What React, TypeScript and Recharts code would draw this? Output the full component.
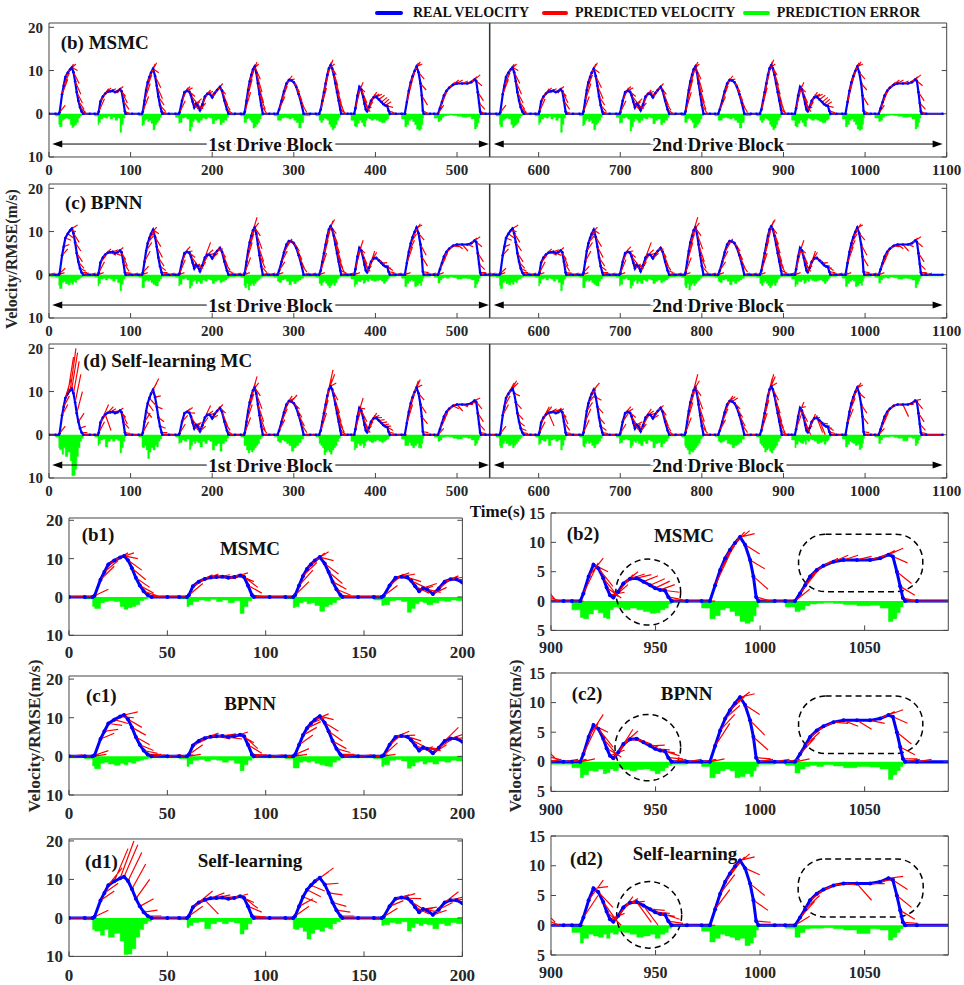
import React from "react";
import {
  Area,
  ComposedChart,
  Line,
  ReferenceArea,
  ReferenceLine,
  XAxis,
  YAxis,
} from "recharts";

// drive cycle breakpoints (s) and real velocity (m/s), one line per trip
const cycleTime = [
  0, 8, 12, 13, 16, 18, 20, 23, 26, 28, 30, 32, 34, 36, 38, 40, 42, 50,
  56, 60, 61, 63, 66, 69, 72, 75, 78, 81, 84, 87, 89, 91, 93, 94, 102,
  110, 114, 115, 117, 119, 121, 123, 125, 127.5, 130, 132, 134, 136, 138, 139, 147,
  155, 159, 160, 163, 166, 169, 172, 174, 176, 178, 180, 182, 185, 188, 191, 194, 197, 200, 203, 206, 209.5, 212, 215, 218, 220, 228,
  235, 239, 240, 242, 244, 246, 248, 250, 252, 254, 256, 258, 260, 262, 270,
  276, 280, 282, 285, 288, 291, 294, 297, 300, 303, 306, 309, 312, 320,
  327, 331, 333, 335, 337, 339, 341, 343, 345, 347, 349, 351, 353, 355, 357, 358, 366,
  370, 374, 375.5, 378, 380.3, 382.6, 385, 386.6, 388.2, 389.8, 392.2, 394.6, 397.8, 401, 404.2, 407.4, 409.8, 412.2, 414.5, 416.1, 417.7, 425,
  432, 436, 438.5, 440.9, 443.3, 445.6, 448, 450.4, 452.8, 455.2, 456.8, 458.1, 459.2, 467,
  472, 476.7, 479.1, 481.5, 483.9, 487.1, 490.3, 495.1, 499.9, 506.3, 512.6, 517.4, 521.4, 523.5, 525.4, 527, 528.3, 529.4, 535,
];
const cycleSpeed = [
  0, 0, 0, 0.3, 4.5, 6.5, 8.5, 9.5, 10.3, 10.7, 9.6, 7.5, 5, 3, 1.5, 0.5, 0, 0,
  0, 0, 0.5, 2.8, 4, 4.7, 5.1, 5.2, 5.3, 5.0, 5.2, 5.6, 5.2, 3, 0.5, 0, 0,
  0, 0, 0.5, 3, 5.5, 7.3, 8.5, 9.5, 10.4, 8.7, 6.5, 4, 2, 0.5, 0, 0,
  0, 0, 0.3, 3, 5, 5.3, 5.1, 4.2, 2.8, 1.5, 2.3, 2, 0.8, 2.2, 4, 4.6, 4.6, 3.8, 4.8, 5.5, 6.2, 5.3, 3, 1, 0, 0,
  0, 0, 0.5, 3, 5.5, 7.5, 9, 10.3, 10.9, 9.5, 7, 4.5, 2, 0, 0,
  0, 0, 1, 3, 5.2, 7, 7.8, 7.7, 7.3, 6.2, 4.5, 2.5, 0, 0,
  0, 0, 1, 3, 5, 7, 9, 10.5, 11.2, 10.5, 9, 7, 5, 3, 1, 0, 0,
  0, 0, 1.3, 4.2, 6.2, 5.6, 3.9, 2.3, 1, 0.6, 1.6, 3, 3.8, 3.9, 3.3, 2.7, 2.2, 1.9, 1.8, 0.7, 0, 0,
  0, 0, 2.7, 5.3, 7.3, 8.7, 9.9, 10.9, 9.6, 7, 4.2, 0.7, 0, 0,
  0, 0, 1.3, 2.7, 4.2, 5.3, 6, 6.7, 7, 7, 7, 7.3, 7.9, 7.6, 5, 2.5, 0.5, 0, 0,
];
const blockStarts = [0, 540];
const tailTime = 1095;
const horizon = 7; // prediction horizon (s)

// predicted velocity at t + horizon, per breakpoint
const predMSMC = [
  0, 0, 0, 2, 8, 9.5, 10.5, 11.5, 11.5, 10, 7, 4.5, 2.5, 1, 0.3, 0, 0, 0,
  0, 0, 3.5, 5, 5.8, 6, 5.6, 5.8, 4.8, 6, 6.3, 4, 2.5, 1, 0, 0, 0,
  0, 0, 4, 7, 9, 10.5, 11.5, 11.8, 9.5, 6, 3.5, 2, 0.5, 0, 0, 0,
  0, 0, 3, 6, 6.3, 6, 4, 2.5, 1, 2.8, 3.5, 1.2, 2.5, 5, 5.5, 5.2, 4.5, 5.5, 6.5, 7, 4.5, 2, 0.8, 0, 0, 0,
  0, 0, 5, 8, 10, 11.5, 12, 11.5, 8, 5, 2.5, 1, 0, 0, 0,
  0, 0, 4, 6.5, 8.2, 8.8, 8, 6.5, 5, 3, 1.2, 0.3, 0, 0,
  0, 0, 6, 9, 11, 12, 12.5, 11.5, 9, 6.5, 4.5, 2.5, 1.2, 0.3, 0, 0, 0,
  0, 0, 6.5, 7.3, 5, 2.5, 0.8, 0.5, 1.5, 2.8, 4.5, 5, 4.6, 4.5, 4.3, 3.8, 3.4, 2.8, 1.5, 0.2, 0, 0,
  0, 0, 8, 9.5, 11, 11.8, 12, 11.5, 8, 5.5, 2, 0, 0, 0,
  0, 2, 4.5, 5.5, 6.2, 6.8, 7.3, 7.8, 7.8, 7.6, 7.8, 8.6, 9, 6.5, 3, 1, 0, 0, 0,
];
const errMSMC = [
  0.1, 0.5, 2.5, 3, 1.5, 1.2, 1, 1.2, 2.5, 3.2, 2.8, 2.5, 2, 1, 0.5, 0.3, 0.1, 0.1,
  0.5, 2.5, 2, 1.2, 0.8, 1, 0.6, 1.2, 0.8, 1.5, 1, 4.3, 2.5, 1, 0.3, 0.15, 0.15,
  0.5, 2.8, 2.5, 1.5, 1.2, 1.8, 1.5, 2.2, 3.7, 2.5, 2, 1.5, 0.8, 0.3, 0.15, 0.15,
  0.8, 2.2, 2, 1, 0.8, 1.2, 4, 3, 1.8, 1.2, 1.5, 2, 1.5, 1, 1.2, 0.8, 1, 2.3, 1.5, 1.2, 2.5, 2, 1.5, 0.8, 0.3, 0.15,
  0.5, 2, 2, 1.2, 1, 1.5, 2, 3.3, 3, 2.5, 2, 1.2, 0.5, 0.2, 0.15,
  0.5, 1.5, 1.5, 1, 0.8, 1, 1.2, 1, 1.5, 2, 3.3, 2, 0.5, 0.15,
  0.5, 1.5, 2, 1.5, 1, 1.2, 1.5, 2.5, 3, 3.7, 3.3, 2.5, 1.5, 0.8, 0.3, 0.15, 0.15,
  1.5, 2.8, 3, 2.2, 1.5, 2, 2.8, 3, 1.5, 1, 1.2, 1.5, 1.2, 1.5, 1.8, 2.1, 2, 1.5, 1.2, 0.5, 0.2, 0.15,
  1.2, 3, 2.5, 1.5, 1.2, 1.8, 2.5, 3.5, 3.8, 3.5, 2.5, 1, 0.3, 0.15,
  1, 1.8, 1.5, 0.8, 0.5, 0.4, 0.3, 0.4, 0.6, 0.8, 0.7, 1.2, 3.5, 3, 2, 1, 0.3, 0.15, 0.15,
];
const predBPNN = [
  0.4, 0.4, 0.5, 1.5, 6, 7, 8, 8.5, 10, 11.5, 7.5, 5.5, 3, 1.5, 0.8, 0.5, 0.4, 0.4,
  0.4, 0.5, 3, 4.5, 5.5, 6, 5.5, 4.5, 5.8, 4.5, 6.3, 3.5, 2, 0.8, 0.4, 0.4, 0.4,
  0.4, 0.5, 2, 5.5, 7.5, 9, 10, 11, 9.5, 6.5, 4, 2, 1, 0.5, 0.4, 0.4,
  0.4, 0.5, 3.5, 6, 6.5, 5.5, 4, 2.5, 1.5, 2.5, 2, 1.5, 3, 4.5, 7.5, 5.8, 5, 5, 6.5, 6, 4, 2, 1, 0.5, 0.4, 0.4,
  0.4, 0.5, 4, 7.5, 9.5, 11, 13.3, 12, 9, 6, 3, 1.5, 0.5, 0.4, 0.4,
  0.4, 0.5, 3, 5.5, 7.5, 8.3, 7.5, 6.5, 5.5, 3.5, 1.5, 0.6, 0.4, 0.4,
  0.4, 0.5, 5, 8, 10, 11.5, 12.5, 12.8, 9.5, 7, 5, 3, 1.5, 0.6, 0.4, 0.4, 0.4,
  0.4, 0.5, 6.5, 8, 5, 2.5, 1, 0.8, 2, 3.5, 5.5, 5.2, 3.5, 3, 2.5, 2.8, 2, 1.5, 1, 0.5, 0.4, 0.4,
  0.4, 0.5, 6.5, 8, 9.5, 11, 11.8, 11.5, 8, 4.5, 2, 0.5, 0.4, 0.4,
  0.4, 0.5, 4, 5, 6, 6.5, 6.8, 6.5, 6, 5.5, 6.5, 8.5, 8.8, 6.5, 3, 1.2, 0.5, 0.4, 0.4,
];
const errBPNN = [
  0.4, 0.6, 2.5, 3.2, 1.8, 1.5, 2, 2.3, 1.8, 2.2, 1.5, 1.8, 1.2, 1, 0.7, 0.5, 0.4, 0.4,
  0.6, 2.6, 2, 1, 0.8, 1.2, 0.8, 1, 1.5, 1, 1.8, 3.7, 2.2, 1, 0.5, 0.4, 0.4,
  0.6, 3, 3, 1.5, 1.2, 1.5, 1.2, 1.8, 2.2, 2.5, 2.6, 1.5, 1, 0.5, 0.4, 0.4,
  0.6, 2.6, 2.2, 1, 0.8, 1.2, 3.1, 2.5, 1.5, 1.2, 2, 1.5, 2, 1.2, 1.5, 1, 1.2, 2, 1.5, 1.2, 1.8, 1.5, 1.2, 0.8, 0.5, 0.4,
  0.6, 2.5, 3, 2, 3.5, 2.5, 2, 2.5, 2, 1.5, 1.2, 0.8, 0.5, 0.4, 0.4,
  0.6, 1.5, 1.8, 1.2, 1, 1.5, 2.3, 1.5, 2, 1.5, 1.2, 0.8, 0.4, 0.4,
  0.6, 2, 2.5, 1.8, 1.5, 2, 2.5, 3, 2.5, 2, 2.5, 1.8, 1, 0.6, 0.4, 0.4, 0.4,
  1, 2.7, 2.2, 1.5, 1.6, 1.2, 2, 1.8, 1.2, 1.5, 1, 1.3, 1.5, 1.3, 1.2, 1.5, 2, 1.5, 1, 0.6, 0.4, 0.3,
  0.8, 2.7, 2, 1.5, 1.2, 1.5, 2.7, 2.5, 2, 2.5, 1.5, 0.8, 0.4, 0.3,
  0.6, 1.9, 1.2, 0.8, 0.6, 0.8, 0.5, 0.7, 1, 0.8, 0.9, 1.2, 3, 2.2, 1.5, 0.8, 0.4, 0.3, 0.3,
];
// self-learning MC, 1st and 2nd drive block
const predSL1 = [
  0, 0, 0, 2, 7, 9, 13, 18, 20, 19, 17, 14, 10, 5, 2, 0.5, 0, 0,
  0, 0, 3, 5, 7, 1, 6.5, 6, 5.5, 5.8, 6.2, 4, 2.5, 1.5, 0.3, 0, 0,
  0, 0, 3, 5, 4, 5.5, 7, 12, 13, 9, 6, 3, 1.5, 0.5, 0, 0,
  0, 0, 2.5, 4.5, 6, 6.3, 5, 2, 1, 2.5, 2.8, 1.5, 2, 4, 6.8, 5.5, 5, 4.5, 6.5, 7, 5, 2, 1, 0, 0, 0,
  0, 0, 4, 7, 9.5, 12, 13.5, 12, 9, 6, 3, 1, 0.3, 0, 0,
  0, 0, 3.5, 6, 8, 9, 8.5, 9.2, 6, 4, 2, 0.5, 0, 0,
  0, 0, 5, 8, 11, 13, 15, 14, 12, 8, 5, 3, 1.5, 0.5, 0, 0, 0,
  0, 0, 6, 8.5, 6, 3, 1, 0.5, 2, 3, 4.5, 5, 4.5, 4, 3.5, 3, 2.5, 2, 1, 0.3, 0, 0,
  0, 0, 7, 9.5, 11, 12.5, 12.8, 11.5, 8, 5, 2.5, 0.5, 0, 0,
  0, 1.5, 4, 5, 6, 6.5, 7, 6, 5.5, 6.5, 7, 7.5, 8.5, 6, 3, 1, 0.3, 0, 0,
];
const errSL1 = [
  0.1, 0.5, 3, 3.4, 4.5, 3, 5, 4, 6, 9.5, 9.4, 8, 5, 3, 1.5, 0.8, 0.2, 0.1,
  0.5, 2.5, 2, 1.2, 1, 2.8, 1.5, 1, 1.5, 1, 1.3, 4.2, 3, 1.5, 0.5, 0.1, 0.1,
  0.5, 2.8, 3, 2.5, 3.5, 5.5, 4, 3, 3.5, 2.5, 2.8, 1.5, 1, 0.3, 0.1, 0.1,
  0.5, 2, 1.8, 1.2, 1.5, 1, 3.4, 2.5, 1.5, 2, 1.5, 1.8, 2.8, 1.5, 2, 1.2, 1.5, 3.5, 2.5, 2, 3.8, 2, 1.5, 0.8, 0.3, 0.1,
  0.5, 2.5, 2.5, 3.5, 4.2, 3.5, 4, 3.5, 3, 2.5, 2, 1, 0.5, 0.2, 0.1,
  0.4, 1.5, 1.8, 1.2, 1.5, 2, 2.5, 3.8, 3, 2.5, 1.8, 1, 0.3, 0.1,
  0.5, 2, 2.5, 3, 4.6, 4, 3.5, 4, 4.5, 3.5, 3, 2.5, 1.5, 0.8, 0.3, 0.1, 0.1,
  1.5, 3.5, 3, 2, 2.5, 2, 3, 2.5, 1.5, 1.2, 1.5, 1.8, 1.5, 1.2, 1.5, 1.8, 1.5, 1.2, 1, 0.5, 0.2, 0.1,
  1, 2.5, 2.5, 1.8, 2.5, 3, 2.5, 2, 3, 3.1, 2, 0.8, 0.2, 0.1,
  0.5, 1.5, 1.2, 0.6, 0.5, 0.4, 0.5, 0.8, 1, 0.6, 0.8, 1.2, 2.5, 2, 1.2, 0.6, 0.3, 0.1, 0.1,
];
const predSL2 = [
  0, 0, 0, 2, 7, 9, 10.5, 12, 12.5, 12, 9, 6, 3.5, 2, 1, 0.3, 0, 0,
  0, 0, 3, 5, 6.5, 6.5, 2, 6, 5.8, 6.2, 6, 4, 2.5, 1, 0.3, 0, 0,
  0, 0, 3.5, 6, 7.5, 9, 10.5, 11.5, 12, 8, 5, 2.5, 1, 0.3, 0, 0,
  0, 0, 2.5, 5, 6.5, 6, 4, 2, 1, 2.5, 3, 1.5, 2.5, 4.5, 6, 5.5, 5, 4.5, 6.5, 6.8, 4.5, 2, 0.8, 0, 0, 0,
  0, 0, 4, 7.5, 10, 12.5, 14, 12.5, 9, 6, 3, 1, 0.3, 0, 0,
  0, 0, 3.5, 6, 8, 9, 8.8, 8.5, 6, 4, 2, 0.5, 0, 0,
  0, 0, 5, 8, 11, 13, 14, 13.5, 12, 8, 5, 3, 1.5, 0.5, 0, 0, 0,
  0, 0, 5, 7.6, 6.5, 3, 0.5, 0, 2, 3.5, 4.8, 4.5, 4, 0.5, 0, 2.5, 2, 1.5, 1, 0.3, 0, 0,
  0, 0, 6, 8.5, 10.5, 11.5, 12, 11.5, 8.5, 5, 2.5, 0.5, 0, 0,
  0, 1.5, 4, 5, 6, 6.5, 7, 7, 6.8, 4.2, 7, 7.8, 8.2, 6, 3, 1, 0.3, 0, 0,
];
const errSL2 = [
  0.1, 0.5, 2.5, 3, 2, 1.5, 2, 2.5, 2.2, 3, 2.5, 2, 1.5, 1, 0.6, 0.3, 0.1, 0.1,
  0.5, 2.3, 2, 1.2, 1.5, 1, 2.5, 1.2, 1, 1.5, 1.2, 3.5, 2.5, 1.2, 0.4, 0.1, 0.1,
  0.5, 2.5, 2.8, 2, 1.5, 2, 1.8, 2.5, 3, 2.2, 2, 1.5, 0.8, 0.3, 0.1, 0.1,
  0.5, 2, 1.8, 1.2, 1, 1.2, 3, 2.5, 1.5, 1.8, 1.5, 2, 2.5, 1.5, 2, 1.2, 1.5, 3, 2, 1.8, 2.8, 2, 1.5, 0.8, 0.3, 0.1,
  0.5, 2.5, 3, 3.5, 4.5, 3.8, 4, 3.5, 3, 2.5, 2, 1, 0.5, 0.2, 0.1,
  0.4, 1.5, 1.8, 1.5, 1.2, 2, 2.2, 3, 2.5, 2.2, 1.8, 1, 0.3, 0.1,
  0.5, 2, 2.5, 3, 4, 3.5, 3.2, 3.8, 4.2, 3.5, 3, 2.5, 1.5, 0.8, 0.3, 0.1, 0.1,
  1.2, 3, 2.2, 1.5, 1.8, 2, 1.5, 2.2, 1.2, 1.5, 1, 1.2, 1.5, 2, 1.8, 1.5, 2.2, 1.5, 1.2, 0.5, 0.2, 0.1,
  1, 2.8, 2.2, 1.5, 1.8, 2, 2.5, 2.2, 3.4, 3, 2, 0.8, 0.2, 0.1,
  0.5, 2, 1.2, 0.6, 0.5, 0.5, 0.4, 0.6, 0.8, 1.4, 0.6, 0.8, 2.5, 2, 1.2, 0.6, 0.3, 0.1, 0.1,
];

const topTicks = [0, 100, 200, 300, 400, 500, 600, 700, 800, 900, 1000, 1100];
const zoomLeftTicks = [0, 50, 100, 150, 200];
const zoomRightTicks = [900, 950, 1000, 1050];

// dashed annotation marks in the right-hand zooms (data coords)
const ringsB2 = [
  { x1: 931, x2: 962, y1: -4.1, y2: 7.15, round: false },
  { x1: 1018.4, x2: 1077.8, y1: 1.6, y2: 11.4, round: true },
];
const ringsC2 = [
  { x1: 930.6, x2: 962, y1: -3.2, y2: 8.0, round: false },
  { x1: 1018.4, x2: 1077.8, y1: 1.4, y2: 11.1, round: true },
];
const ringsD2 = [
  { x1: 931.4, x2: 962.5, y1: -3.85, y2: 7.35, round: false },
  { x1: 1018.2, x2: 1078, y1: 1.4, y2: 11.15, round: true },
];

const FONT = "'Liberation Serif', 'Times New Roman', Times, serif";
const AXIS = "#444";
const BLUE = "#0000ff";
const RED = "#ff0000";
const GREEN = "#00ff00";

function buildSeries(preds: number[][], errs: number[][]) {
  const vel: any[] = [];
  const fan: any[] = [];
  const err: any[] = [];
  blockStarts.forEach((off, b) => {
    cycleTime.forEach((ct, i) => {
      const t = off + ct;
      const v = cycleSpeed[i];
      const p = preds[b][i] ?? 0;
      const nextT =
        i + 1 < cycleTime.length
          ? off + cycleTime[i + 1]
          : b + 1 < blockStarts.length
          ? blockStarts[b + 1]
          : tailTime;
      const h = v === 0 && p === 0 ? nextT - t : horizon;
      vel.push({ t, v });
      fan.push({ t, p: v }, { t: t + h, p }, { t: t + h, p: null });
      err.push({ t, e: -(errs[b][i] ?? 0) });
    });
  });
  vel.push({ t: tailTime, v: 0 });
  err.push({ t: tailTime, e: -0.1 });
  return { vel, fan, err };
}

const msmc = buildSeries([predMSMC, predMSMC], [errMSMC, errMSMC]);
const bpnn = buildSeries([predBPNN, predBPNN], [errBPNN, errBPNN]);
const selfl = buildSeries([predSL1, predSL2], [errSL1, errSL2]);

const arrowShape = (label: string) => (props: any) => {
  const { x1, y1, x2, y2 } = props;
  const mid = (x1 + x2) / 2;
  return (
    <g>
      <line x1={x1 + 6} y1={y1} x2={x2 - 6} y2={y2} stroke="#000" strokeWidth={1} />
      <polygon points={`${x1},${y1} ${x1 + 10},${y1 - 3.5} ${x1 + 10},${y1 + 3.5}`} fill="#000" />
      <polygon points={`${x2},${y2} ${x2 - 10},${y2 - 3.5} ${x2 - 10},${y2 + 3.5}`} fill="#000" />
      <text
        x={mid}
        y={y1}
        dy="0.35em"
        textAnchor="middle"
        fontSize={19}
        fontWeight={700}
        fontFamily={FONT}
        fill="#111"
        stroke="#fff"
        strokeWidth={6}
        paintOrder="stroke"
      >
        {label}
      </text>
    </g>
  );
};

const ringShape = (round: boolean) => (p: any) => {
  const common = { fill: "none", stroke: "#000", strokeWidth: 1.5, strokeDasharray: "6 4" };
  if (round) {
    return <rect x={p.x} y={p.y} width={p.width} height={p.height} rx={27} ry={27} {...common} />;
  }
  return (
    <ellipse cx={p.x + p.width / 2} cy={p.y + p.height / 2} rx={p.width / 2} ry={p.height / 2} {...common} />
  );
};

type PanelCfg = {
  left: number;
  top: number;
  width: number;
  height: number;
  xDomain: number[];
  xTicks: number[];
  yDomain: number[];
  yTicks: number[];
  font: number;
  xGap: number;
  series: { vel: any[]; fan: any[]; err: any[] };
  drive?: boolean;
  rings?: { x1: number; x2: number; y1: number; y2: number; round: boolean }[];
  lineW: number;
  dotR: number;
};

function Panel({ cfg }: { cfg: PanelCfg }) {
  const L = 50;
  const R = 30;
  const T = 14;
  const B = 36;
  const tickStyle = { fill: "#262626", fontSize: cfg.font, fontWeight: 700, fontFamily: FONT };
  const tickMargin = cfg.xGap - 0.355 * cfg.font + 5;
  return (
    <div style={{ position: "absolute", left: cfg.left - L, top: cfg.top - T }}>
      <ComposedChart
        width={cfg.width + L + R}
        height={cfg.height + T + B}
        margin={{ top: 0, right: 0, bottom: 0, left: 0 }}
      >
        <XAxis
          type="number"
          dataKey="t"
          domain={cfg.xDomain}
          ticks={cfg.xTicks}
          interval={0}
          allowDataOverflow
          height={B}
          tickSize={-5}
          tickMargin={tickMargin}
          stroke={AXIS}
          tick={tickStyle}
        />
        <XAxis
          xAxisId="top"
          orientation="top"
          type="number"
          domain={cfg.xDomain}
          ticks={cfg.xTicks}
          interval={0}
          allowDataOverflow
          height={T}
          tickSize={-5}
          tickFormatter={() => ""}
          stroke={AXIS}
        />
        <YAxis
          type="number"
          domain={cfg.yDomain}
          ticks={cfg.yTicks}
          interval={0}
          allowDataOverflow
          width={L}
          tickSize={-5}
          tickMargin={11}
          tickFormatter={(v: number) => String(Math.abs(v))}
          stroke={AXIS}
          tick={tickStyle}
        />
        <YAxis
          yAxisId="right"
          orientation="right"
          type="number"
          domain={cfg.yDomain}
          ticks={cfg.yTicks}
          interval={0}
          allowDataOverflow
          width={R}
          tickSize={-5}
          tickFormatter={() => ""}
          stroke={AXIS}
        />
        <Area
          data={cfg.series.err}
          dataKey="e"
          type="stepAfter"
          baseValue={0}
          fill={GREEN}
          fillOpacity={1}
          stroke={GREEN}
          strokeWidth={0.5}
          isAnimationActive={false}
        />
        <Line
          data={cfg.series.vel}
          dataKey="v"
          type="linear"
          stroke={BLUE}
          strokeWidth={cfg.lineW}
          dot={{ r: cfg.dotR, fill: BLUE, stroke: "none" }}
          activeDot={false}
          isAnimationActive={false}
        />
        <Line
          data={cfg.series.fan}
          dataKey="p"
          type="linear"
          stroke={RED}
          strokeWidth={1.2}
          dot={false}
          activeDot={false}
          isAnimationActive={false}
        />
        {cfg.drive && <ReferenceLine x={540} stroke="#333" strokeWidth={1.5} />}
        {cfg.drive && (
          <ReferenceLine
            segment={[
              { x: 4, y: -7 },
              { x: 539, y: -7 },
            ]}
            shape={arrowShape("1st Drive Block")}
          />
        )}
        {cfg.drive && (
          <ReferenceLine
            segment={[
              { x: 545, y: -7 },
              { x: 1095, y: -7 },
            ]}
            shape={arrowShape("2nd Drive Block")}
          />
        )}
        {(cfg.rings || []).map((r, i) => (
          <ReferenceArea key={i} x1={r.x1} x2={r.x2} y1={r.y1} y2={r.y2} shape={ringShape(r.round)} />
        ))}
      </ComposedChart>
    </div>
  );
}

const topBase = {
  left: 49.3,
  width: 897.7,
  height: 134,
  xDomain: [0, 1100],
  xTicks: topTicks,
  yDomain: [-10, 21],
  yTicks: [-10, 0, 10, 20],
  font: 15,
  xGap: 13,
  drive: true,
  lineW: 2.2,
  dotR: 1.3,
};
const leftBase = {
  left: 69.3,
  width: 393.4,
  xDomain: [0, 200],
  xTicks: zoomLeftTicks,
  yTicks: [-10, 0, 10, 20],
  font: 17,
  lineW: 3,
  dotR: 2,
};
const rightBase = {
  left: 551,
  width: 397.3,
  xDomain: [900, 1090],
  xTicks: zoomRightTicks,
  yDomain: [-5, 15],
  yTicks: [-5, 0, 5, 10, 15],
  font: 16,
  lineW: 3,
  dotR: 2,
};

const panels: PanelCfg[] = [
  { ...topBase, top: 23, series: msmc },
  { ...topBase, top: 184, series: bpnn },
  { ...topBase, top: 344, series: selfl },
  { ...leftBase, top: 517.7, height: 117.3, yDomain: [-10, 20.6], xGap: 16.7, series: msmc },
  { ...leftBase, top: 676, height: 119, yDomain: [-10, 20.8], xGap: 18.3, series: bpnn },
  { ...leftBase, top: 839.3, height: 117.4, yDomain: [-10, 20.5], xGap: 18.3, series: selfl },
  { ...rightBase, top: 513.3, height: 117.4, xGap: 17, series: msmc, rings: ringsB2 },
  { ...rightBase, top: 673.3, height: 118.4, xGap: 18.3, series: bpnn, rings: ringsC2 },
  { ...rightBase, top: 836, height: 119, xGap: 17, series: selfl, rings: ringsD2 },
];

const labels = [
  { text: "(b) MSMC", x: 60.7, y: 41.7, size: 19, center: false },
  { text: "(c) BPNN", x: 65, y: 201.7, size: 19, center: false },
  { text: "(d) Self-learning MC", x: 83.3, y: 360, size: 19, center: false },
  { text: "(b1)", x: 81.7, y: 534.3, size: 19, center: false },
  { text: "MSMC", x: 250, y: 547.7, size: 19, center: true },
  { text: "(c1)", x: 86, y: 695, size: 19, center: false },
  { text: "BPNN", x: 250, y: 702.7, size: 19, center: true },
  { text: "(d1)", x: 85, y: 860.7, size: 19, center: false },
  { text: "Self-learning", x: 250, y: 860, size: 19, center: true },
  { text: "(b2)", x: 566.7, y: 533.3, size: 19, center: false },
  { text: "MSMC", x: 684, y: 535, size: 19, center: true },
  { text: "(c2)", x: 571.7, y: 693.3, size: 19, center: false },
  { text: "BPNN", x: 686.7, y: 693.3, size: 19, center: true },
  { text: "(d2)", x: 570, y: 857.7, size: 19, center: false },
  { text: "Self-learning", x: 685, y: 852.7, size: 19, center: true },
  { text: "Time(s)", x: 497.5, y: 511, size: 17, center: true },
];

const yTitles = [
  { x: 12, y: 259, size: 16 },
  { x: 35, y: 736, size: 17.5 },
  { x: 516, y: 736, size: 17.5 },
];

const legendItems = [
  { color: BLUE, x1: 375, x2: 403, tx: 413, text: "REAL VELOCITY" },
  { color: RED, x1: 541.7, x2: 568.3, tx: 575, text: "PREDICTED VELOCITY" },
  { color: GREEN, x1: 743, x2: 770, tx: 776.7, text: "PREDICTION ERROR" },
];

export default function App() {
  const textBase: React.CSSProperties = {
    position: "absolute",
    fontFamily: FONT,
    fontWeight: 700,
    color: "#111",
    whiteSpace: "nowrap",
    lineHeight: 1,
  };
  return (
    <div style={{ position: "absolute", left: 0, top: 0, width: 964, height: 985, background: "#fff", overflow: "hidden" }}>
      {panels.map((p, i) => (
        <Panel key={i} cfg={p} />
      ))}
      {labels.map((l, i) => (
        <div
          key={i}
          style={{
            ...textBase,
            left: l.x,
            top: l.y,
            fontSize: l.size,
            transform: l.center ? "translate(-50%, -50%)" : "translateY(-50%)",
          }}
        >
          {l.text}
        </div>
      ))}
      {yTitles.map((t, i) => (
        <div
          key={i}
          style={{
            ...textBase,
            left: t.x,
            top: t.y,
            fontSize: t.size,
            color: "#262626",
            transform: "translate(-50%, -50%) rotate(-90deg)",
          }}
        >
          Velocity/RMSE(m/s)
        </div>
      ))}
      {legendItems.map((it, i) => (
        <React.Fragment key={i}>
          <div
            style={{
              position: "absolute",
              left: it.x1,
              top: 11.3,
              width: it.x2 - it.x1,
              height: 4,
              background: it.color,
              borderRadius: 2,
            }}
          />
          <div style={{ ...textBase, left: it.tx, top: 13.3, fontSize: 14, transform: "translateY(-50%)" }}>
            {it.text}
          </div>
        </React.Fragment>
      ))}
    </div>
  );
}
